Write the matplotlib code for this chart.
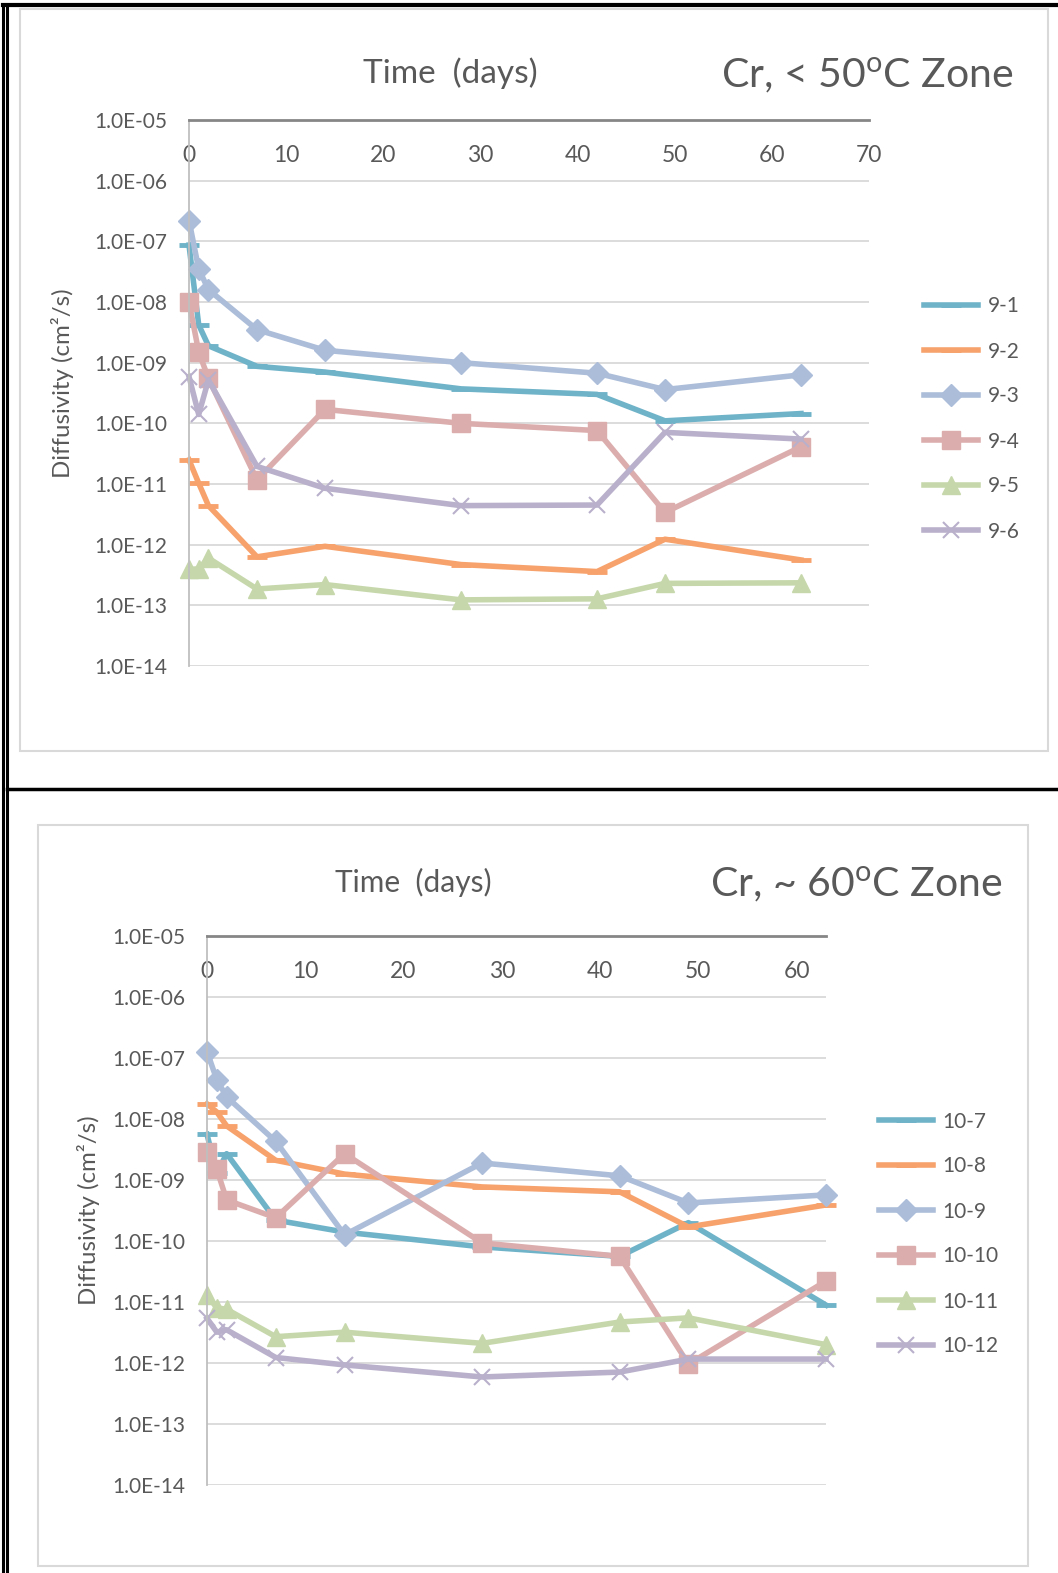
import numpy as np
import matplotlib.pyplot as plt
from matplotlib.lines import Line2D
from matplotlib.patches import Rectangle
from matplotlib.ticker import FixedLocator, FixedFormatter, NullLocator

plt.rcParams['font.family'] = ['Lato', 'DejaVu Sans']
plt.rcParams['mathtext.fontset'] = 'custom'
plt.rcParams['mathtext.rm'] = 'Lato'

W, H = 1058, 1573

# time points (days)
days = [0, 1, 2, 7, 14, 28, 42, 49, 63]

# < 50 C zone
s9_1 = [8.7e-8, 4.2e-9, 1.9e-9, 8.7e-10, 7.0e-10, 3.7e-10, 3.0e-10, 1.1e-10, 1.45e-10]
s9_2 = [2.5e-11, 1.03e-11, 4.4e-12, 6.3e-13, 9.4e-13, 4.7e-13, 3.6e-13, 1.23e-12, 5.6e-13]
s9_3 = [2.2e-7, 3.5e-8, 1.6e-8, 3.5e-9, 1.6e-9, 1.0e-9, 6.7e-10, 3.6e-10, 6.3e-10]
s9_4 = [1.0e-8, 1.5e-9, 5.5e-10, 1.17e-11, 1.7e-10, 1.0e-10, 7.6e-11, 3.4e-12, 4.1e-11]
s9_5 = [3.9e-13, 4.0e-13, 6.0e-13, 1.86e-13, 2.2e-13, 1.23e-13, 1.28e-13, 2.3e-13, 2.35e-13]
s9_6 = [5.9e-10, 1.4e-10, 5.2e-10, 1.95e-11, 8.5e-12, 4.4e-12, 4.5e-12, 7.1e-11, 5.5e-11]

# ~ 60 C zone
s10_7 = [5.6e-9, 1.3e-9, 2.7e-9, 2.2e-10, 1.4e-10, 8.0e-11, 5.6e-11, 2.0e-10, 8.9e-12]
s10_8 = [1.77e-8, 1.3e-8, 7.7e-9, 2.1e-9, 1.25e-9, 7.7e-10, 6.4e-10, 1.7e-10, 3.9e-10]
s10_9 = [1.27e-7, 4.4e-8, 2.3e-8, 4.3e-9, 1.26e-10, 1.9e-9, 1.17e-9, 4.2e-10, 5.7e-10]
s10_10 = [2.9e-9, 1.5e-9, 4.7e-10, 2.4e-10, 2.7e-9, 9.3e-11, 5.6e-11, 9.6e-13, 2.2e-11]
s10_11 = [1.3e-11, 8.0e-12, 7.6e-12, 2.7e-12, 3.2e-12, 2.1e-12, 4.7e-12, 5.5e-12, 2.0e-12]
s10_12 = [5.4e-12, 3.2e-12, 3.5e-12, 1.23e-12, 9.3e-13, 5.9e-13, 7.1e-13, 1.16e-12, 1.16e-12]

labels_top = ['9-1', '9-2', '9-3', '9-4', '9-5', '9-6']
labels_bot = ['10-7', '10-8', '10-9', '10-10', '10-11', '10-12']

ytick_vals = [1e-14, 1e-13, 1e-12, 1e-11, 1e-10, 1e-9, 1e-8, 1e-7, 1e-6, 1e-5]
ytick_labels = ['1.0E-14', '1.0E-13', '1.0E-12', '1.0E-11', '1.0E-10',
                '1.0E-09', '1.0E-08', '1.0E-07', '1.0E-06', '1.0E-05']
xticks_top = [0, 10, 20, 30, 40, 50, 60, 70]
xticks_bot = [0, 10, 20, 30, 40, 50, 60]

colors = ['#6fb3c9', '#f7a26c', '#abbdd9', '#dcadad', '#c6d8ab', '#b9b0cb']
markers = ['_', '_', 'D', 's', '^', 'x']
msizes = [14, 14, 11, 13, 13, 12]
mews = [3.5, 3.5, 1, 1, 1, 1.5]

TXT = '#595959'


def fx(x):
    return x / W


def fy(y):
    return 1 - y / H


def draw_panel(fig, rect, series, labels, xmax, xticks, title, tpos, tsize,
               title_pos, ylab_pos, leg_pos):
    ax = fig.add_axes(rect)
    for vals, lab, c, m, ms, mw in zip(series, labels, colors, markers, msizes, mews):
        ax.plot(days, vals, color=c, lw=4, marker=m, markersize=ms, mec=c, mfc=c,
                mew=mw, label=lab, solid_joinstyle='round', clip_on=False)
    ax.set_yscale('log')
    ax.set_ylim(1e-14, 1e-5)
    ax.set_xlim(0, xmax)
    ax.yaxis.set_major_locator(FixedLocator(ytick_vals))
    ax.yaxis.set_major_formatter(FixedFormatter(ytick_labels))
    ax.yaxis.set_minor_locator(NullLocator())
    ax.set_xticks(xticks)
    ax.grid(axis='y', color='#d9d9d9', lw=1.3)
    ax.set_axisbelow(True)
    for s in ['right', 'bottom']:
        ax.spines[s].set_visible(False)
    ax.spines['top'].set_color('#868686')
    ax.spines['top'].set_linewidth(2)
    ax.spines['left'].set_color('#bfbfbf')
    ax.spines['left'].set_linewidth(1.3)
    ax.tick_params(axis='y', length=0, pad=16, labelsize=15, labelcolor=TXT)
    ax.tick_params(axis='x', top=True, labeltop=True, bottom=False, labelbottom=False,
                   length=0, pad=-33, labelsize=16.5, labelcolor=TXT)
    fig.text(fx(tpos[0]), fy(tpos[1]), 'Time  (days)', fontsize=tsize, color=TXT,
             ha='center', va='center')
    fig.text(fx(title_pos[0]), fy(title_pos[1]), title, fontsize=29.5, color=TXT,
             ha='right', va='center')
    fig.text(fx(ylab_pos[0]), fy(ylab_pos[1]), 'Diffusivity (cm\u00b2/s)', fontsize=17.3,
             color=TXT, rotation=90, ha='center', va='center')
    fig.legend(loc='center left', bbox_to_anchor=(fx(leg_pos[0]), fy(leg_pos[1])),
               frameon=False, fontsize=15, labelcolor=TXT, handlelength=2.6,
               handletextpad=0.45, labelspacing=1.2, borderpad=0, borderaxespad=0,
               numpoints=1, handles=ax.get_lines())
    return ax


fig = plt.figure(figsize=(W / 100, H / 100), dpi=100)

# outer frame lines
for x in (3, 7):
    fig.add_artist(Line2D([fx(x), fx(x)], [fy(5), 0], color='black', lw=2.2))
fig.add_artist(Line2D([fx(3), 1], [fy(5), fy(5)], color='black', lw=3))
fig.add_artist(Line2D([fx(7), 1], [fy(789), fy(789)], color='black', lw=2.5))

# chart area boxes
fig.add_artist(Rectangle((fx(20), fy(751)), fx(1048) - fx(20), fy(9) - fy(751),
                         fill=False, ec='#d9d9d9', lw=1.5))
fig.add_artist(Rectangle((fx(38), fy(1566)), fx(1028) - fx(38), fy(825) - fy(1566),
                         fill=False, ec='#d9d9d9', lw=1.5))

draw_panel(fig, [fx(189), fy(666), fx(869) - fx(189), fy(120) - fy(666)],
           [s9_1, s9_2, s9_3, s9_4, s9_5, s9_6], labels_top, 70, xticks_top,
           'Cr, < 50$^{\\mathrm{o}}$C Zone', (450, 73), 24, (1014, 75), (63, 383), (924, 419))

draw_panel(fig, [fx(207), fy(1485), fx(826) - fx(207), fy(936) - fy(1485)],
           [s10_7, s10_8, s10_9, s10_10, s10_11, s10_12], labels_bot, 63, xticks_bot,
           'Cr, ~ 60$^{\\mathrm{o}}$C Zone', (413, 882), 21.5, (1003, 884), (88, 1210), (879, 1234))

fig.savefig('out.png', dpi=100)
